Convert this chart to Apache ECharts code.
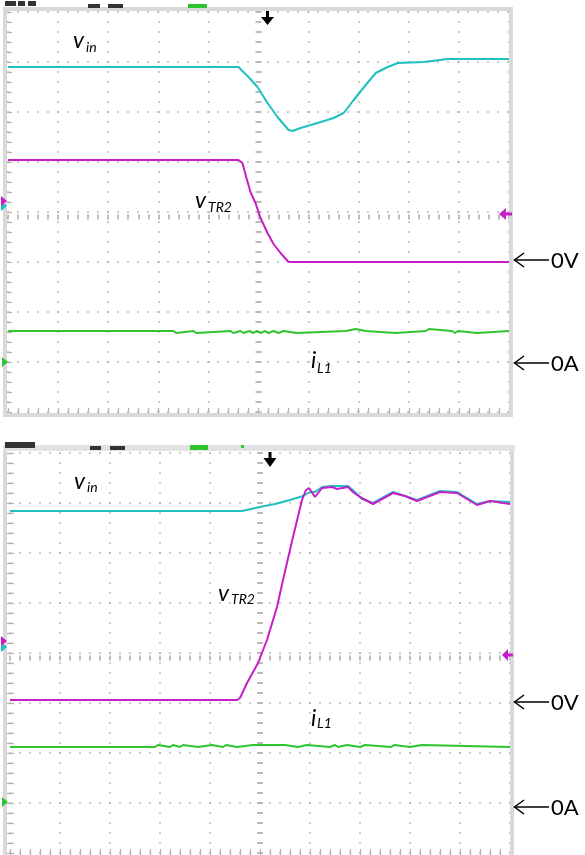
<!DOCTYPE html>
<html><head><meta charset="utf-8">
<script src="https://cdn.jsdelivr.net/npm/echarts@6/dist/echarts.min.js"></script>
<style>html,body{margin:0;padding:0;background:#fff}#c{width:585px;height:855px}</style>
</head><body><div id="c"></div>
<script>
// ---- data (time in divisions 0..10, level in divisions 0..8 from bottom) ----
const topVin = [[0,6.9],[4.6,6.9],[4.8,6.7],[4.98,6.5],[5.18,6.18],[5.38,5.9],[5.6,5.64],[5.68,5.62],[5.84,5.68],[6.18,5.78],[6.5,5.88],[6.7,5.98],[6.9,6.24],[7.14,6.54],[7.34,6.78],[7.58,6.9],[7.78,6.98],[8.3,7.0],[8.78,7.06],[10,7.06]];
const topVtr2 = [[0,5.04],[4.6,5.04],[4.68,4.98],[4.76,4.68],[4.84,4.4],[4.94,4.18],[5.04,3.88],[5.18,3.58],[5.3,3.36],[5.44,3.18],[5.6,3.0],[10,3.0]];
const topIl1 = [[0,1.62],[3.3,1.58],[3.36,1.62],[3.7,1.58],[3.76,1.62],[4.44,1.58],[4.5,1.62],[4.64,1.58],[4.7,1.62],[4.82,1.58],[4.9,1.62],[4.96,1.58],[5.06,1.62],[5.12,1.58],[5.2,1.62],[5.3,1.58],[5.4,1.62],[5.5,1.58],[5.76,1.62],[6.74,1.66],[6.94,1.62],[7.14,1.58],[7.74,1.62],[8.34,1.66],[8.4,1.62],[8.86,1.58],[8.92,1.62],[8.98,1.58],[9.36,1.62],[10,1.62]];

const botVin = [[0,6.84],[4.64,6.84],[4.68,6.88],[5.0,6.92],[5.3,6.98],[5.6,7.06],[5.86,7.14],[6.0,7.22],[6.1,7.22],[6.24,7.32],[6.44,7.34],[6.76,7.34],[6.9,7.22],[7.04,7.08],[7.26,7.0],[7.66,7.22],[8.14,7.06],[8.6,7.24],[8.94,7.22],[9.34,6.98],[9.6,7.04],[10,7.02]];
const botVtr2 = [[0,3.06],[4.54,3.06],[4.6,3.1],[4.74,3.4],[4.96,3.8],[5.14,4.26],[5.34,4.92],[5.46,5.46],[5.66,6.32],[5.84,7.06],[5.92,7.26],[5.98,7.3],[6.1,7.12],[6.24,7.3],[6.44,7.32],[6.54,7.28],[6.76,7.32],[6.86,7.22],[7.0,7.12],[7.26,6.98],[7.66,7.2],[7.9,7.14],[8.14,7.04],[8.6,7.22],[8.94,7.2],[9.34,6.96],[9.6,7.04],[10,6.98]];
const botIl1 = [[0,2.12],[2.9,2.16],[2.96,2.12],[3.2,2.16],[3.26,2.12],[3.4,2.16],[3.46,2.12],[3.76,2.16],[4.04,2.12],[4.26,2.16],[4.32,2.12],[4.54,2.16],[4.86,2.12],[4.9,2.16],[5.5,2.12],[5.76,2.16],[5.94,2.12],[6.4,2.16],[6.5,2.12],[6.56,2.16],[6.74,2.12],[7.0,2.16],[7.1,2.12],[7.62,2.16],[7.68,2.12],[8.0,2.16],[8.24,2.12],[10,2.12]];

const labelMain = ['v','v','i'];
const labelSub = ['in','TR2','L1'];
const refLabels = ['0V','0A'];

// ---- styling ----
const CYAN = '#1fc0c0', MAG = '#c81ec8', GRN = '#2ec42e';
const DOT = '#a9a9a9', TICK = '#b3b3b3', FRAME = '#d9d9d9';
const FONT = 'Lato, "Open Sans", sans-serif';
const GRIDS = [{left:8, top:12, width:501, height:400},{left:10, top:453, width:500, height:400}];

function tick(len, w){
  return {
    axisTick:{show:true, inside:true, length:len, lineStyle:{color:TICK, width:w}},
    minorTick:{show:true, splitNumber:5, length:len, lineStyle:{color:TICK, width:w}}
  };
}
const dotted = {show:true, lineStyle:{color:DOT, width:1.6, type:[1.6,8.4], dashOffset:0.8}};
const xAxes = [], yAxes = [];
GRIDS.forEach((g, gi) => {
  const bx = {gridIndex:gi, type:'value', min:0, max:10, interval:1, axisLabel:{show:false}, axisLine:{show:false}, splitLine:{show:false}};
  const by = {gridIndex:gi, type:'value', min:0, max:8, interval:1, axisLabel:{show:false}, axisLine:{show:false}, splitLine:{show:false}};
  xAxes.push(Object.assign({}, bx, tick(4,1.3), {position:'bottom', splitLine:dotted}));
  xAxes.push(Object.assign({}, bx, tick(4,1.3), {position:'top'}));
  xAxes.push(Object.assign({}, bx, tick(5,1.7), {position:'top', offset:-(g.height/2 - 2.5)}));
  yAxes.push(Object.assign({}, by, tick(4,1.3), {position:'left', splitLine:dotted}));
  yAxes.push(Object.assign({}, by, tick(4,1.3), {position:'right'}));
  yAxes.push(Object.assign({}, by, tick(6,1.7), {position:'left', offset:-(g.width/2 - 3)}));
});

function trace(gi, data, color, z, step){
  return {type:'line', xAxisIndex:gi*3, yAxisIndex:gi*3, data, symbol:'none', showSymbol:false, step:step||false,
    lineStyle:{color, width:2}, itemStyle:{color}, animation:false, silent:true, z};
}

// ---- decorations ----
const G = [];
function rect(x,y,w,h,fill,z){ G.push({type:'rect', shape:{x,y,width:w,height:h}, style:{fill}, z:z||5, silent:true}); }
function poly(points, fill, z){ G.push({type:'polygon', shape:{points}, style:{fill}, z:z||20, silent:true}); }
function txt(x,y,s,font){ G.push({type:'text', x, y, style:{text:s, font, fill:'#000', align:'left', verticalAlign:'middle'}, z:60, silent:true}); }
function sublabel(x,y,i,subX,subY){
  txt(x,y,labelMain[i],'italic 23px '+FONT);
  txt(subX,subY,labelSub[i],'italic 14px '+FONT);
}
function arrowNote(y, s){
  G.push({type:'line', shape:{x1:514,y1:y,x2:549,y2:y}, style:{stroke:'#000', lineWidth:1.5}, z:60, silent:true});
  G.push({type:'polyline', shape:{points:[[524,y-7],[514.5,y],[524,y+7]]}, style:{stroke:'#000', lineWidth:1.5, fill:null}, z:60, silent:true});
  txt(551, y+1, s, '22px '+FONT);
}

// frames
G.push({type:'rect', shape:{x:5,y:9,width:506,height:406}, style:{fill:null, stroke:FRAME, lineWidth:4}, z:1, silent:true});
G.push({type:'rect', shape:{x:5,y:449,width:507,height:410}, style:{fill:null, stroke:FRAME, lineWidth:4}, z:1, silent:true});
rect(3,445,512,6,'#e2e2e2',1);
// clipped header bits
rect(5,1,11,5,'#333'); rect(18,1,7,5,'#333'); rect(28,1,8,5,'#333');
rect(88,4,12,4,'#333'); rect(108,4,15,4,'#333'); rect(188,4,19,4,GRN);
rect(5,442,30,6,'#333'); rect(90,446,11,4,'#333'); rect(110,446,15,4,'#333'); rect(190,445,18,5,GRN); rect(241,445,3,3,GRN);
// trigger arrows
rect(266,11,3,8,'#000',20); poly([[261,17],[274,17],[267.5,25]],'#000');
rect(268.5,452,3,8,'#000',20); poly([[263.5,458],[276.5,458],[270,467]],'#000');
// channel markers left
poly([[1,201],[7,206],[1,211]],CYAN); poly([[1,196],[7,201],[1,206]],MAG); poly([[2,357],[8,362],[2,367]],GRN);
poly([[1,642],[7,647],[1,652]],CYAN); poly([[1,636],[7,641],[1,646]],MAG); poly([[2,797],[8,802],[2,807]],GRN);
// right magenta markers
poly([[499,214],[506,208],[506,220]],MAG); rect(506,212.5,6,3,MAG,20);
poly([[502,655],[508,649],[508,661]],MAG); rect(508,653.5,5,3,MAG,20);
// labels
sublabel(73,41,0,86,47.5);
sublabel(195,201,1,208,207.5);
sublabel(311,361,2,317,368.5);
sublabel(74,481.5,0,87,487.5);
sublabel(218,593.5,1,231,599);
sublabel(311,718.5,2,317,723.5);
arrowNote(260, refLabels[0]); arrowNote(363, refLabels[1]);
arrowNote(702, refLabels[0]); arrowNote(807, refLabels[1]);

const chart = echarts.init(document.getElementById('c'), null, {renderer:'canvas'});
chart.setOption({
  backgroundColor:'#fff',
  animation:false,
  grid: GRIDS.map(g => Object.assign({show:false, containLabel:false}, g)),
  xAxis: xAxes,
  yAxis: yAxes,
  series: [
    trace(0, topVin, CYAN, 3), trace(0, topVtr2, MAG, 4), trace(0, topIl1, GRN, 5, 'end'),
    trace(1, botVin, CYAN, 3), trace(1, botVtr2, MAG, 4), trace(1, botIl1, GRN, 5, 'end')
  ],
  graphic: G
});
</script>
</body></html>
